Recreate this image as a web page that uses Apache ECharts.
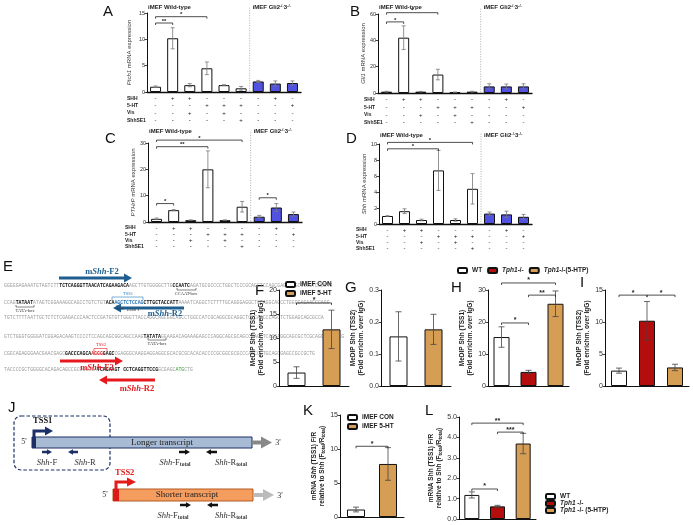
<!DOCTYPE html>
<html>
<head>
<meta charset="utf-8">
<script src="https://cdn.jsdelivr.net/npm/echarts@6/dist/echarts.min.js"></script>
<style>html,body{margin:0;padding:0;background:#fff}#main{width:693px;height:525px}</style>
</head>
<body>
<div id="main"></div>
<script>
// treatment table shared by panels A-D
var conditionRows = ['SHH', '5-HT', 'Vis', 'ShhSE1'];
var shhTreat = ['-', '+', '+', '-', '-', '-', '-', '+', '-'];
var htTreat  = ['-', '-', '-', '+', '+', '+', '-', '-', '+'];
var visTreat = ['-', '-', '+', '-', '+', '-', '-', '-', '-'];
var se1Treat = ['-', '-', '-', '-', '-', '+', '-', '-', '-'];
var genotype = ['wt', 'wt', 'wt', 'wt', 'wt', 'wt', 'gli', 'gli', 'gli'];

var ptch1Mean = [1.0, 10.2, 1.3, 4.5, 1.3, 0.7, 2.0, 1.6, 1.7];
var ptch1Err  = [0.15, 2.0, 0.3, 1.2, 0.1, 0.35, 0.2, 0.5, 0.4];
var gli1Mean  = [1.0, 42, 1.0, 14, 0.6, 1.0, 5.0, 5.0, 5.0];
var gli1Err   = [0.3, 9, 0.2, 4, 0.2, 0.3, 2.0, 1.8, 2.0];
var pthrpMean = [1.2, 4.5, 0.7, 20, 0.7, 5.8, 2.0, 5.5, 3.0];
var pthrpErr  = [0.3, 0.2, 0.1, 7, 0.1, 2.0, 0.5, 1.5, 0.8];
var shhMean   = [1.0, 1.6, 0.5, 6.7, 0.5, 4.4, 1.3, 1.2, 0.9];
var shhErr    = [0.05, 0.3, 0.1, 2.5, 0.15, 1.9, 0.2, 0.4, 0.3];

// brackets: [from, to, level, label]
var ptch1Brackets = [[0, 1, 13.1, '**'], [0, 3, 14.3, '*']];
var gli1Brackets  = [[0, 1, 54, '*'], [0, 3, 61, '*']];
var pthrpBrackets = [[0, 1, 7, '*'], [0, 3, 28.6, '**'], [0, 5, 31.1, '*'], [6, 7, 9.2, '*']];
var shhBrackets   = [[0, 3, 9.4, '*'], [0, 5, 10.2, '*']];

var imefGroups = ['iMEF CON', 'iMEF 5-HT'];
var tphGroups = ['WT', 'Tph1-/-', 'Tph1-/-(5-HTP)'];
var tphGroupsL = ['WT', 'Tph1 -/-', 'Tph1 -/- (5-HTP)'];

var medipTss1Imef = [2.8, 11.8], medipTss1ImefErr = [1.2, 4.0];
var medipTss2Imef = [0.155, 0.177], medipTss2ImefErr = [0.077, 0.047];
var medipTss1Tph = [15.3, 4.4, 25.7], medipTss1TphErr = [3.2, 0.5, 4.0];
var medipTss2Tph = [2.4, 10.2, 2.9], medipTss2TphErr = [0.4, 3.0, 0.5];
var ratioImef = [1.1, 7.8], ratioImefErr = [0.35, 2.4];
var ratioTph = [1.18, 0.62, 3.7], ratioTphErr = [0.15, 0.05, 0.5];

var brF = [[0, 1, 17.3, '*']];
var brH = [[0, 1, 19.7, '*'], [1, 2, 28.4, '**'], [0, 2, 32.2, '*']];
var brI = [[0, 1, 14.2, '*'], [1, 2, 14.2, '*']];
var brK = [[0, 1, 10.4, '*']];
var brL = [[0, 1, 1.47, '*'], [0, 2, 4.7, '**'], [1, 2, 4.26, '***']];

var FONT = 'Liberation Sans, Arial, sans-serif';
var SERIF = 'Liberation Serif, Times New Roman, serif';
var MONO = 'Liberation Mono, monospace';
var ORANGE = '#d69d55', RED = '#b30d0d', BLUE = '#5252e2';

var myChart = echarts.init(document.getElementById('main'));
var grids = [], xAxes = [], yAxes = [], series = [], graphics = [], legends = [];

function txt(x, y, text, st) {
    return {type: 'text', x: x, y: y, style: Object.assign({
        text: text, fontSize: 6, fontFamily: FONT, fill: '#222', align: 'left', verticalAlign: 'middle'
    }, st || {})};
}

function errSeries(gi, means, errs, cap, color) {
    return {
        type: 'custom', xAxisIndex: gi, yAxisIndex: gi, z: 5,
        data: means.map(function (m, i) { return [i, m - errs[i], m + errs[i]]; }),
        renderItem: function (params, api) {
            var lo = api.coord([api.value(0), api.value(1)]);
            var hi = api.coord([api.value(0), api.value(2)]);
            var st = {stroke: color, lineWidth: 0.8};
            return {type: 'group', children: [
                {type: 'line', shape: {x1: lo[0], y1: lo[1], x2: hi[0], y2: hi[1]}, style: st},
                {type: 'line', shape: {x1: hi[0] - cap, y1: hi[1], x2: hi[0] + cap, y2: hi[1]}, style: st},
                {type: 'line', shape: {x1: lo[0] - cap, y1: lo[1], x2: lo[0] + cap, y2: lo[1]}, style: st}
            ]};
        }
    };
}

function bracketSeries(gi, brs, fs) {
    return {
        type: 'custom', xAxisIndex: gi, yAxisIndex: gi, z: 6,
        data: brs.map(function (b) { return [b[0], b[2]]; }),
        renderItem: function (params, api) {
            var b = brs[params.dataIndex];
            var p1 = api.coord([b[0], b[2]]), p2 = api.coord([b[1], b[2]]);
            return {type: 'group', children: [
                {type: 'polyline', shape: {points: [[p1[0], p1[1] + 2], [p1[0], p1[1]], [p2[0], p2[1]], [p2[0], p2[1] + 2]]},
                    style: {stroke: '#222', fill: null, lineWidth: 0.8}},
                {type: 'text', x: (p1[0] + p2[0]) / 2, y: p1[1] + 1,
                    style: {text: b[3], align: 'center', verticalAlign: 'bottom', fontSize: fs, fontWeight: 'bold', fill: '#222', fontFamily: FONT}}
            ]};
        }
    };
}

function dividerSeries(gi, topVal) {
    return {
        type: 'custom', xAxisIndex: gi, yAxisIndex: gi, z: 1,
        data: [[5, topVal]],
        renderItem: function (params, api) {
            var a = api.coord([5, topVal]), b = api.coord([6, 0]);
            var x = (a[0] + b[0]) / 2;
            return {type: 'line', shape: {x1: x, y1: a[1], x2: x, y2: b[1]},
                style: {stroke: '#999', lineWidth: 0.8, lineDash: [1, 1.5]}};
        }
    };
}

function yAxis(gi, max, step, name, gap, fs, nameStyle, fmt) {
    return {
        type: 'value', gridIndex: gi, min: 0, max: max, interval: step,
        axisLine: {show: true, lineStyle: {color: '#111', width: 1}},
        axisTick: {show: true, length: 2.5, lineStyle: {color: '#111', width: 0.8}},
        splitLine: {show: false},
        axisLabel: {fontSize: fs, color: '#333', margin: 2, fontFamily: FONT, formatter: fmt},
        name: name, nameLocation: 'middle', nameGap: gap, nameTextStyle: nameStyle
    };
}

var smallName = {fontSize: 6, color: '#333', fontFamily: FONT,
    rich: {i: {fontStyle: 'italic', fontSize: 6, color: '#333', fontFamily: FONT}}};
var boldName = {fontSize: 6.5, fontWeight: 'bold', color: '#222', fontFamily: FONT, lineHeight: 8,
    rich: {i: {fontStyle: 'italic', fontWeight: 'bold', fontSize: 6.5, lineHeight: 8, color: '#222'},
           s: {fontSize: 4.5, fontWeight: 'bold', lineHeight: 8, color: '#222', verticalAlign: 'bottom'}}};

// ---- panels A-D ----
var abcd = [
    {letter: 'A', pos: [103, 12], rect: [147, 13, 154, 79], max: 15, step: 5, mean: ptch1Mean, err: ptch1Err, br: ptch1Brackets,
        name: '{i|Ptch1} mRNA expression', gap: 15, rowH: 7.2, rowX: 127, titleY: 7, topVal: 16},
    {letter: 'B', pos: [350, 12], rect: [378, 14, 154, 79], max: 60, step: 20, mean: gli1Mean, err: gli1Err, br: gli1Brackets,
        name: '{i|Gli1} mRNA expression', gap: 12, rowH: 7.6, rowX: 364, titleY: 7, topVal: 64},
    {letter: 'C', pos: [105, 139], rect: [148, 143, 154, 79], max: 30, step: 10, mean: pthrpMean, err: pthrpErr, br: pthrpBrackets,
        name: '{i|PTHrP} mRNA expression', gap: 12, rowH: 6.2, rowX: 125, titleY: 131, topVal: 34},
    {letter: 'D', pos: [346, 139], rect: [379, 144, 153, 80], max: 10, step: 2, mean: shhMean, err: shhErr, br: shhBrackets,
        name: '{i|Shh} mRNA expression', gap: 10, rowH: 6.2, rowX: 356, titleY: 135, topVal: 11.3}
];

abcd.forEach(function (p) {
    var gi = grids.length;
    grids.push({left: p.rect[0], top: p.rect[1], width: p.rect[2], height: p.rect[3]});
    xAxes.push({
        type: 'category', gridIndex: gi, data: shhTreat.map(function (s, i) { return 'c' + i; }),
        axisLine: {show: true, lineStyle: {color: '#111', width: 1.4}}, axisTick: {show: false},
        axisLabel: {interval: 0, fontSize: 6, color: '#222', margin: 3, lineHeight: p.rowH, fontFamily: FONT,
            formatter: function (v, idx) { return [shhTreat[idx], htTreat[idx], visTreat[idx], se1Treat[idx]].join('\n'); }}
    });
    yAxes.push(yAxis(gi, p.max, p.step, p.name, p.gap, 5.5, smallName));
    series.push({
        type: 'bar', xAxisIndex: gi, yAxisIndex: gi, barWidth: 11,
        data: p.mean.map(function (v, i) {
            return {value: v, itemStyle: {color: genotype[i] === 'wt' ? '#fff' : BLUE, borderColor: '#111', borderWidth: 1}};
        })
    });
    series.push(errSeries(gi, p.mean, p.err, 2, '#777'));
    series.push(bracketSeries(gi, p.br, 6));
    series.push(dividerSeries(gi, p.topVal));

    var axisY = p.rect[1] + p.rect[3];
    conditionRows.forEach(function (r, k) {
        graphics.push(txt(p.rowX, axisY + 3 + p.rowH * (k + 0.5), r, {fontSize: 5, fontWeight: 'bold'}));
    });
    graphics.push(txt(p.rect[0] + 1, p.titleY, 'iMEF Wild-type', {fontSize: 6, fontWeight: 'bold'}));
    graphics.push(txt(p.rect[0] + p.rect[2] * 6 / 9 + 3, p.titleY, 'iMEF Gli2{s|-/-}3{s|-/-}', {
        fontSize: 6, fontWeight: 'bold', rich: {s: {fontSize: 4, fontWeight: 'bold', verticalAlign: 'top', fill: '#222'}}}));
    graphics.push(txt(p.pos[0], p.pos[1], p.letter, {fontSize: 15, fill: '#111'}));
});

// ---- panels F-L ----
function groupBars(gi, names, means, colors, width) {
    names.forEach(function (n, k) {
        series.push({
            name: n, type: 'bar', xAxisIndex: gi, yAxisIndex: gi, barWidth: width, barGap: '-100%',
            itemStyle: {color: colors[k], borderColor: '#111', borderWidth: 1},
            data: means.map(function (v, i) { return i === k ? v : '-'; })
        });
    });
}

var fl = [
    {letter: 'F', pos: [255, 291], rect: [279, 290, 70, 96], max: 20, step: 5, names: imefGroups, colors: ['#fff', ORANGE],
        mean: medipTss1Imef, err: medipTss1ImefErr, br: brF, bw: 18, gap: 12,
        name: 'MeDIP Shh (TSS1)\n(Fold enrichm. over IgG)'},
    {letter: 'G', pos: [345, 288], rect: [381, 290, 70, 96], max: 0.3, step: 0.1, names: imefGroups, colors: ['#fff', ORANGE],
        mean: medipTss2Imef, err: medipTss2ImefErr, br: [], bw: 18, gap: 15, fmt: function (v) { return v.toFixed(1); },
        name: 'MeDIP Shh (TSS2)\n(Fold enrichm. over IgG)'},
    {letter: 'H', pos: [451, 288], rect: [488, 290, 81, 96], max: 30, step: 10, names: tphGroups, colors: ['#fff', RED, ORANGE],
        mean: medipTss1Tph, err: medipTss1TphErr, br: brH, bw: 16, gap: 12,
        name: 'MeDIP Shh (TSS1)\n(Fold enrichm. over IgG)'},
    {letter: 'I', pos: [580, 283], rect: [605, 290, 84, 96], max: 15, step: 5, names: tphGroups, colors: ['#fff', RED, ORANGE],
        mean: medipTss2Tph, err: medipTss2TphErr, br: brI, bw: 16, gap: 10,
        name: 'MeDIP Shh (TSS2)\n(Fold enrichm. over IgG)'},
    {letter: 'K', pos: [303, 411], rect: [340, 415, 64, 102], max: 15, step: 5, names: imefGroups, colors: ['#fff', ORANGE],
        mean: ratioImef, err: ratioImefErr, br: brK, bw: 18, gap: 13,
        name: 'mRNA {i|Shh} (TSS1) F/R\nrelative to Shh (F{s|total}/R{s|total})'},
    {letter: 'L', pos: [425, 411], rect: [459, 417, 77, 102], max: 5, step: 1, names: tphGroupsL, colors: ['#fff', RED, ORANGE],
        mean: ratioTph, err: ratioTphErr, br: brL, bw: 15, gap: 12, fmt: function (v) { return v.toFixed(1); },
        name: 'mRNA Shh (TSS1) F/R\nrelative to Shh (F{s|total}/R{s|total})'}
];

fl.forEach(function (p) {
    var gi = grids.length;
    grids.push({left: p.rect[0], top: p.rect[1], width: p.rect[2], height: p.rect[3]});
    xAxes.push({
        type: 'category', gridIndex: gi, data: p.names,
        axisLine: {show: true, lineStyle: {color: '#111', width: 1}}, axisTick: {show: false}, axisLabel: {show: false}
    });
    yAxes.push(yAxis(gi, p.max, p.step, p.name, p.gap, 7, boldName, p.fmt));
    groupBars(gi, p.names, p.mean, p.colors, p.bw);
    series.push(errSeries(gi, p.mean, p.err, 3, '#444'));
    if (p.br.length) series.push(bracketSeries(gi, p.br, 7));
    graphics.push(txt(p.pos[0], p.pos[1], p.letter, {fontSize: 15, fill: '#111'}));
});

var legendText = {fontSize: 6.5, fontWeight: 'bold', color: '#222', fontFamily: FONT,
    rich: {i: {fontSize: 6.5, fontWeight: 'bold', fontStyle: 'italic', color: '#222'}}};
function italicTph(name) { return name.replace('Tph1', '{i|Tph1}'); }
legends.push({data: imefGroups, orient: 'vertical', left: 285, top: 281, padding: 0, itemWidth: 9, itemHeight: 5, itemGap: 2,
    textStyle: legendText, selectedMode: false});
legends.push({data: imefGroups, orient: 'vertical', left: 347, top: 414, padding: 0, itemWidth: 9, itemHeight: 5, itemGap: 2,
    textStyle: legendText, selectedMode: false});
legends.push({data: tphGroups, orient: 'horizontal', left: 457, top: 267, padding: 0, itemWidth: 9, itemHeight: 5, itemGap: 5,
    textStyle: legendText, formatter: italicTph, selectedMode: false});
legends.push({data: tphGroupsL, orient: 'vertical', left: 545, top: 493, height: 32, padding: 0, itemWidth: 9, itemHeight: 5, itemGap: 0,
    textStyle: legendText, formatter: italicTph, selectedMode: false});

// ---- panel E: promoter sequence ----
var seqLines = [
    [['g', 'GGGGGAGAAATGTAGTCTT'], ['b', 'TCTCAGGGTTAACATCAGAAGACA'], ['g', 'AGCTTGTGGGGCTTG'], ['b', 'CCAATC'],
        ['g', 'AGATGCGCCCCTGGCTCCCGCAGCTCCAGCGAGGGAGCCCGCTCGCCTG']],
    [['g', 'CCAG'], ['b', 'TATAAT'], ['g', 'ATAGTCGGAAAGGCAGCCTGTCTGT'], ['b', 'ACA'], ['bl', 'AGCTCTCCAG'], ['b', 'CTTGCTACCATT'],
        ['g', 'AAAATCAGGCTCTTTTGCAGGGAGGCTCCAGGCAGCCTGGGGAGAACCCAGG']],
    [['g', 'TGTCTTTTAATTGCTCTCTCGAGACCCAACTCCGATGTGTTGGGTTACCAGGCAGCGGCAGCCTGGCCATCGCAGGCGCAGGCTCCCAGCCCAGCTCTGGAGCAGCGCCA']],
    [['g', 'GTCTGGGTGGGGATCGGAGACAAGTCCCCTCCAGCAGCGGCAGCCAAG'], ['b', 'TATATA'],
        ['g', 'GGAAGACAGAAAGAGCCCAGGCAGCGCAGCCCAGCTCCCGAGGCAGCGCTCGCAGCAGCTCCG']],
    [['g', 'CGGCAGAGGGAACGAACGAGC'], ['b', 'GACCCAGCA'], ['r', 'AGGG'], ['b', 'GAGC'],
        ['g', 'CGAGGGCAAGGAGGAGGCGCACGCGCACACACCCCGCGGCGCGCCCAGCCCTGCAGCGAGCCGCCGCTG']],
    [['g', 'TACCCCGCTGGGGCACAGACAGCCGCGGGGGA'], ['b', 'TCAGAAGT CCTCAGGTTCCG'], ['g', 'GCGAGC'], ['gr', 'ATG'], ['g', 'CTG']]
];
var seqY = [286, 303, 318, 337, 354, 370];
var SEQFS = 4.85;
var seqRich = {
    g: {fill: '#9a9a9a', fontSize: SEQFS, fontFamily: MONO},
    b: {fill: '#111', fontSize: SEQFS, fontFamily: MONO, fontWeight: 'bold'},
    bl: {fill: '#2a78b8', fontSize: SEQFS, fontFamily: MONO, fontWeight: 'bold'},
    r: {fill: '#e02020', fontSize: SEQFS, fontFamily: MONO, fontWeight: 'bold'},
    gr: {fill: '#30a030', fontSize: SEQFS, fontFamily: MONO}
};
seqLines.forEach(function (line, k) {
    var t = line.map(function (s) { return '{' + s[0] + '|' + s[1] + '}'; }).join('');
    graphics.push(txt(4, seqY[k], t, {fontSize: SEQFS, fontFamily: MONO, rich: seqRich}));
});

function arrowEl(x1, x2, y, color, w, head) {
    var dir = x2 > x1 ? 1 : -1, hx = x2 - dir * head;
    return [
        {type: 'line', shape: {x1: x1, y1: y, x2: hx, y2: y}, style: {stroke: color, lineWidth: w}},
        {type: 'polygon', shape: {points: [[x2, y], [hx, y - head * 0.55], [hx, y + head * 0.55]]}, style: {fill: color}}
    ];
}
function bracketEl(x1, x2, y, h, color) {
    return {type: 'polyline', shape: {points: [[x1, y + h], [x1, y], [x2, y], [x2, y + h]]},
        style: {stroke: color, fill: null, lineWidth: 0.6}};
}
var SEQBLUE = '#1f5f8f', SEQRED = '#e8191e';
function primerLabel(x, y, text, color) {
    return txt(x, y, text, {fontSize: 8.5, fontWeight: 'bold', fontFamily: SERIF, fill: color, align: 'center',
        rich: {i: {fontStyle: 'italic', fontWeight: 'bold', fontSize: 8.5, fontFamily: SERIF, fill: color}}});
}
graphics = graphics.concat(
    arrowEl(59, 132, 278, SEQBLUE, 3, 8),
    arrowEl(184, 113, 308, SEQBLUE, 3, 8),
    arrowEl(60, 123, 361, SEQRED, 3, 8),
    arrowEl(155, 99, 380, SEQRED, 3, 8)
);
graphics.push(primerLabel(102, 272, 'm{i|Shh}-F2', SEQBLUE));
graphics.push(primerLabel(165, 314, 'm{i|Shh}-R2', SEQBLUE));
graphics.push(primerLabel(97, 368, 'm{i|Shh}-F2', SEQRED));
graphics.push(primerLabel(137, 389, 'm{i|Shh}-R2', SEQRED));
graphics.push(bracketEl(112, 143, 297, 3, '#2a78b8'));
graphics.push(txt(128, 293.5, 'TSS1', {fontSize: 4.5, fontFamily: SERIF, fill: '#2a78b8', align: 'center'}));
graphics.push({type: 'polyline', shape: {points: [[117, 305], [117, 309], [124, 309]]}, style: {stroke: '#333', fill: null, lineWidth: 0.6}});
graphics.push(txt(127, 309.5, 'Exon 1', {fontSize: 4.5, fontFamily: SERIF, fontStyle: 'italic', fill: '#333'}));
graphics.push(bracketEl(177, 196, 290, -2, '#333'));
graphics.push(txt(186, 294, 'CCAAT-box', {fontSize: 4.5, fontFamily: SERIF, fill: '#333', align: 'center'}));
graphics.push(bracketEl(16, 34, 307, -2, '#333'));
graphics.push(txt(25, 310.5, 'TATA-box', {fontSize: 4.5, fontFamily: SERIF, fill: '#333', align: 'center'}));
graphics.push(bracketEl(148, 166, 340, -2, '#333'));
graphics.push(txt(157, 343.5, 'TATA-box', {fontSize: 4.5, fontFamily: SERIF, fill: '#333', align: 'center'}));
graphics.push(bracketEl(94, 107, 348.5, 3, SEQRED));
graphics.push(txt(101, 345, 'TSS2', {fontSize: 4.5, fontFamily: SERIF, fill: SEQRED, align: 'center'}));
graphics.push(txt(3, 267, 'E', {fontSize: 15, fill: '#111'}));

// ---- panel J: transcript schematic ----
var NAVY = '#1b2f66';
var jLabel = {fontSize: 8.5, fontFamily: SERIF, fill: '#333', align: 'center',
    rich: {i: {fontStyle: 'italic', fontSize: 8.5, fontFamily: SERIF, fill: '#333'},
           s: {fontSize: 5.5, fontFamily: SERIF, fill: '#333', fontWeight: 'bold', verticalAlign: 'bottom'}}};
graphics.push(txt(8, 408, 'J', {fontSize: 15, fill: '#111'}));
graphics.push({type: 'rect', shape: {x: 14, y: 416, width: 96, height: 54, r: 7},
    style: {fill: null, stroke: NAVY, lineWidth: 1.2, lineDash: [3.5, 2]}});
graphics.push({type: 'rect', shape: {x: 32, y: 437, width: 220, height: 11}, style: {fill: '#a8bbd4', stroke: NAVY, lineWidth: 1}});
graphics.push({type: 'rect', shape: {x: 32, y: 437, width: 4, height: 11}, style: {fill: NAVY}});
graphics.push({type: 'polyline', shape: {points: [[34, 437], [34, 431], [46, 431]]}, style: {stroke: NAVY, lineWidth: 3, fill: null}});
graphics.push({type: 'polygon', shape: {points: [[53, 431], [45, 426.5], [45, 435.5]]}, style: {fill: NAVY}});
graphics.push(txt(33, 421, 'TSS1', {fontSize: 8.5, fontFamily: SERIF, fontWeight: 'bold', fill: '#111'}));
graphics.push(txt(24, 442, "5'", {fontSize: 8, fontFamily: SERIF, fill: '#333', align: 'center'}));
graphics = graphics.concat(arrowEl(252, 272, 442.5, '#888', 4, 11));
graphics.push(txt(278, 443, "3'", {fontSize: 8, fontFamily: SERIF, fill: '#333', align: 'center'}));
graphics.push(txt(162, 442.5, 'Longer transcript', {fontSize: 9, fontFamily: SERIF, fill: '#222', align: 'center'}));
graphics = graphics.concat(
    arrowEl(42, 52, 452, NAVY, 2.5, 5), arrowEl(78, 68, 452, NAVY, 2.5, 5),
    arrowEl(179, 190, 452, '#111', 2.5, 5), arrowEl(217, 206, 452, '#111', 2.5, 5)
);
graphics.push(txt(47, 463, '{i|Shh}-F', jLabel));
graphics.push(txt(85, 463, '{i|Shh}-R', jLabel));
graphics.push(txt(175, 463, '{i|Shh}-F{s|total}', jLabel));
graphics.push(txt(231, 463, '{i|Shh}-R{s|total}', jLabel));

graphics.push({type: 'rect', shape: {x: 113, y: 489, width: 140, height: 12}, style: {fill: '#f59c5f', stroke: '#b25a22', lineWidth: 1}});
graphics.push({type: 'rect', shape: {x: 113, y: 489, width: 6, height: 12}, style: {fill: '#dd1a1a'}});
graphics.push({type: 'polyline', shape: {points: [[116, 489], [116, 482], [128, 482]]}, style: {stroke: '#e41b1b', lineWidth: 3, fill: null}});
graphics.push({type: 'polygon', shape: {points: [[136, 482], [127, 477.5], [127, 486.5]]}, style: {fill: '#e41b1b'}});
graphics.push(txt(115, 473, 'TSS2', {fontSize: 8.5, fontFamily: SERIF, fontWeight: 'bold', fill: '#e41b1b'}));
graphics.push(txt(105, 495, "5'", {fontSize: 8, fontFamily: SERIF, fill: '#333', align: 'center'}));
graphics = graphics.concat(arrowEl(253, 274, 495, '#bbb', 4, 11));
graphics.push(txt(280, 495.5, "3'", {fontSize: 8, fontFamily: SERIF, fill: '#333', align: 'center'}));
graphics.push(txt(187, 495, 'Shorter transcript', {fontSize: 9, fontFamily: SERIF, fill: '#222', align: 'center'}));
graphics = graphics.concat(arrowEl(180, 191, 505, '#111', 2.5, 5), arrowEl(218, 207, 505, '#111', 2.5, 5));
graphics.push(txt(173, 516, '{i|Shh}-F{s|total}', jLabel));
graphics.push(txt(231, 516, '{i|Shh}-R{s|total}', jLabel));

var option = {
    animation: false,
    backgroundColor: '#fff',
    textStyle: {fontFamily: FONT},
    grid: grids,
    xAxis: xAxes,
    yAxis: yAxes,
    legend: legends,
    series: series,
    graphic: {elements: graphics}
};
myChart.setOption(option);
</script>
</body>
</html>
